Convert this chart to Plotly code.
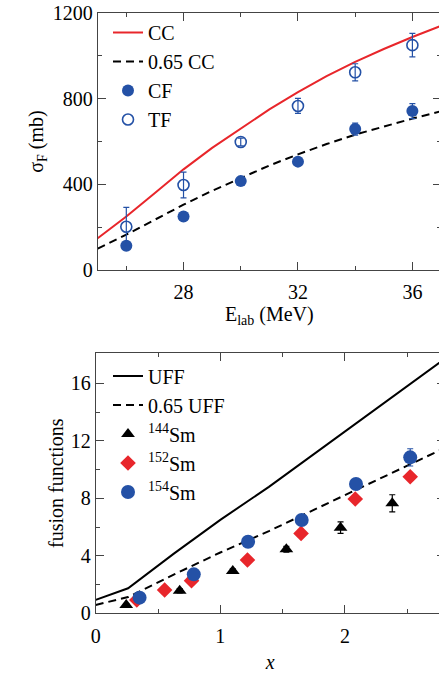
import plotly.graph_objects as go

# ---- Top panel data ----
cc_e = [25, 26, 27, 28, 29, 30, 31, 32, 33, 34, 35, 36, 37]
cc_sigma = [148, 250, 360, 470, 570, 662, 750, 830, 905, 972, 1032, 1088, 1140]
cc65_sigma = [100, 165, 235, 305, 370, 430, 488, 540, 588, 632, 671, 707, 741]

cf_e = [26, 28, 30, 32, 34, 36]
cf_sigma = [113, 250, 415, 506, 658, 742]
cf_err = [18, 18, 18, 18, 28, 35]

tf_e = [26, 28, 30, 32, 34, 36]
tf_sigma = [202, 397, 598, 766, 923, 1050]
tf_err = [90, 60, 18, 35, 40, 55]

# ---- Bottom panel data ----
uff_x = [0, 0.26, 0.63, 1.0, 1.39, 2.0, 2.8]
uff_y = [0.93, 1.74, 4.17, 6.5, 8.8, 12.63, 17.7]
uff65_y = [0.58, 1.13, 2.71, 4.23, 5.72, 8.21, 11.5]

sm144_x = [0.245, 0.674, 1.10, 1.53, 1.965, 2.38]
sm144_y = [0.58, 1.57, 2.94, 4.45, 5.96, 7.65]
sm144_err = [0.1, 0.15, 0.15, 0.2, 0.4, 0.6]

sm152_x = [0.33, 0.553, 0.769, 1.218, 1.648, 2.083, 2.524]
sm152_y = [0.93, 1.62, 2.27, 3.71, 5.56, 7.95, 9.5]

sm154_x = [0.352, 0.787, 1.223, 1.653, 2.089, 2.524]
sm154_y = [1.09, 2.71, 4.98, 6.49, 9.0, 10.85]
sm154_err = [0.1, 0.2, 0.2, 0.2, 0.35, 0.6]

BLUE = "#2451a6"
RED = "#e8262b"
FONT = "Liberation Serif, Times New Roman, serif"
AX = "#444444"
W, H = 446, 673  # slightly wider than the 439 px view so the right frame falls just outside


def px_x(v):
    return v / W


def px_y(v):
    return 1 - v / H


fig = go.Figure()

# top panel
fig.add_trace(go.Scatter(x=cc_e, y=cc_sigma, mode="lines", name="CC",
                         line=dict(color=RED, width=2), legend="legend", legendgroup="a"))
fig.add_trace(go.Scatter(x=cc_e, y=cc65_sigma, mode="lines", name="0.65 CC",
                         line=dict(color="black", width=2, dash="8px,5px"), legend="legend", legendgroup="b"))
fig.add_trace(go.Scatter(x=cf_e, y=cf_sigma, mode="markers", name="CF",
                         marker=dict(color=BLUE, size=12, symbol="circle"),
                         error_y=dict(type="data", array=cf_err, color=BLUE, thickness=1.2, width=3),
                         legend="legend", legendgroup="c"))
fig.add_trace(go.Scatter(x=tf_e, y=tf_sigma, mode="markers", name="TF",
                         marker=dict(color=BLUE, size=11, symbol="circle-open", line=dict(width=1.6, color=BLUE)),
                         error_y=dict(type="data", array=tf_err, color=BLUE, thickness=1.2, width=3),
                         legend="legend", legendgroup="d"))

# bottom panel
fig.add_trace(go.Scatter(x=uff_x, y=uff_y, mode="lines", name="UFF", xaxis="x2", yaxis="y2",
                         line=dict(color="black", width=2), legend="legend2", legendgroup="e"))
fig.add_trace(go.Scatter(x=uff_x, y=uff65_y, mode="lines", name="0.65 UFF", xaxis="x2", yaxis="y2",
                         line=dict(color="black", width=2, dash="8px,5px"), legend="legend2", legendgroup="f"))
fig.add_trace(go.Scatter(x=sm144_x, y=sm144_y, mode="markers", name="<sup>144</sup>Sm", xaxis="x2", yaxis="y2",
                         marker=dict(color="black", size=12, symbol="triangle-up"),
                         error_y=dict(type="data", array=sm144_err, color="black", thickness=1.2, width=3),
                         legend="legend2", legendgroup="g"))
fig.add_trace(go.Scatter(x=sm152_x, y=sm152_y, mode="markers", name="<sup>152</sup>Sm", xaxis="x2", yaxis="y2",
                         marker=dict(color=RED, size=12, symbol="diamond"),
                         legend="legend2", legendgroup="h"))
fig.add_trace(go.Scatter(x=sm154_x, y=sm154_y, mode="markers", name="<sup>154</sup>Sm", xaxis="x2", yaxis="y2",
                         marker=dict(color=BLUE, size=14, symbol="circle"),
                         error_y=dict(type="data", array=sm154_err, color=BLUE, thickness=1.2, width=3),
                         legend="legend2", legendgroup="i"))

tickfont = dict(family=FONT, size=20, color="black")
common = dict(showgrid=False, zeroline=False, showline=True, linecolor=AX, linewidth=1, automargin=False,
              ticks="inside", ticklen=8, tickcolor=AX, tickfont=tickfont, mirror="allticks",
              ticklabeloverflow="allow")

# pixel positions in the browser view
top_dom_x = [px_x(97.7), px_x(441)]
top_dom_y = [px_y(270), px_y(13)]
bot_dom_x = [px_x(95.7), px_x(444.6)]
bot_dom_y = [px_y(613.3), px_y(353.3)]

fig.update_layout(
    template="none",
    width=W, height=H, margin=dict(l=0, r=0, t=0, b=0, pad=0),
    paper_bgcolor="white", plot_bgcolor="white",
    font=dict(family=FONT, size=20, color="black"),
    xaxis=dict(domain=top_dom_x, range=[25, 37], anchor="y",
               tickvals=[28, 32, 36], minor=dict(tickvals=[26, 30, 34], ticklen=4, ticks="inside", tickcolor=AX),
               ticklabelstandoff=4,
               title=dict(text="E<sub>lab</sub> (MeV)", font=dict(family=FONT, size=20), standoff=1), **common),
    yaxis=dict(domain=top_dom_y, range=[0, 1200], anchor="x",
               tickvals=[0, 400, 800, 1200], minor=dict(tickvals=[200, 600, 1000], ticklen=4, ticks="inside", tickcolor=AX),
               title=dict(text="σ<sub>F</sub> (mb)", font=dict(family=FONT, size=20), standoff=3), **common),
    xaxis2=dict(domain=bot_dom_x, range=[0, 2.8], anchor="y2",
                tickvals=[0, 1, 2], minor=dict(tickvals=[0.5, 1.5, 2.5], ticklen=4, ticks="inside", tickcolor=AX),
                ticklabelstandoff=5,
                title=dict(text="<i>x</i>", font=dict(family=FONT, size=20), standoff=8), **common),
    yaxis2=dict(domain=bot_dom_y, range=[0, 18.09], anchor="x2",
                tickvals=[0, 4, 8, 12, 16], minor=dict(tickvals=[2, 6, 10, 14], ticklen=4, ticks="inside", tickcolor=AX),
                title=dict(text="fusion functions", font=dict(family=FONT, size=20), standoff=1), **common),
    legend=dict(x=px_x(108), y=px_y(13), xanchor="left", yanchor="top", bgcolor="rgba(0,0,0,0)",
                font=dict(family=FONT, size=20), tracegroupgap=0, traceorder="grouped"),
    legend2=dict(x=px_x(108), y=px_y(356.5), xanchor="left", yanchor="top", bgcolor="rgba(0,0,0,0)",
                 font=dict(family=FONT, size=20), tracegroupgap=0, traceorder="grouped"),
    showlegend=True,
)

fig.write_html("out.html", config={"displayModeBar": False},
               post_script="document.body.style.margin='0';document.body.style.overflow='hidden';")
